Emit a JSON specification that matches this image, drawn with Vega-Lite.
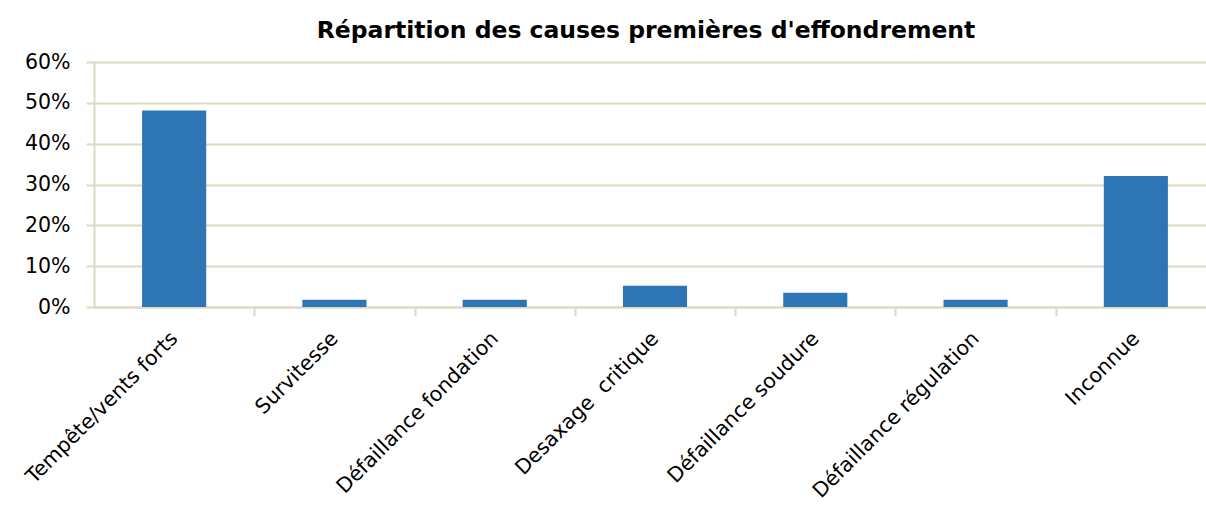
{
  "$schema": "https://vega.github.io/schema/vega-lite/v6.json",
  "autosize": {"type": "none"},
  "padding": {"left": 94, "top": 62, "right": 0, "bottom": 199},
  "width": 1112,
  "height": 245,
  "background": "white",
  "title": {
    "text": "Répartition des causes premières d'effondrement",
    "font": "DejaVu Sans",
    "fontSize": 23.5,
    "fontWeight": "bold",
    "color": "#000000",
    "anchor": "middle",
    "dx": -4,
    "offset": 10
  },
  "data": {
    "values": [
      {"cause": "Tempête/vents forts", "part": 0.481},
      {"cause": "Survitesse", "part": 0.018},
      {"cause": "Défaillance fondation", "part": 0.018},
      {"cause": "Desaxage\u00a0 critique", "part": 0.052},
      {"cause": "Défaillance soudure", "part": 0.035},
      {"cause": "Défaillance régulation", "part": 0.018},
      {"cause": "Inconnue", "part": 0.321}
    ]
  },
  "mark": {"type": "bar", "color": "#2E75B6"},
  "encoding": {
    "x": {
      "field": "cause",
      "type": "nominal",
      "sort": null,
      "title": null,
      "scale": {"range": [0, 1122], "paddingInner": 0.6, "paddingOuter": 0.3},
      "axis": {
        "labelAngle": -45,
        "labelAlign": "right",
        "labelBaseline": "middle",
        "labelFont": "DejaVu Sans",
        "labelFontSize": 20.5,
        "labelColor": "#000000",
        "labelPadding": 19,
        "labelOverlap": false,
        "labelLimit": 400,
        "labelOffset": -80.14,
        "tickOffset": 80.14,
        "tickSize": 9,
        "tickColor": "#DDD9C3",
        "tickWidth": 2,
        "domainColor": "#DDD9C3",
        "domainWidth": 2,
        "grid": false
      }
    },
    "y": {
      "field": "part",
      "type": "quantitative",
      "title": null,
      "scale": {"domain": [0, 0.6], "nice": false},
      "axis": {
        "format": ".0%",
        "values": [0, 0.1, 0.2, 0.3, 0.4, 0.5, 0.6],
        "labelFont": "DejaVu Sans",
        "labelFontSize": 20.5,
        "labelColor": "#000000",
        "labelPadding": 16,
        "tickSize": 8,
        "tickColor": "#DDD9C3",
        "tickWidth": 2,
        "domainColor": "#DDD9C3",
        "domainWidth": 2,
        "gridColor": "#DDD9C3",
        "gridWidth": 2
      }
    }
  },
  "config": {"view": {"stroke": null}}
}
